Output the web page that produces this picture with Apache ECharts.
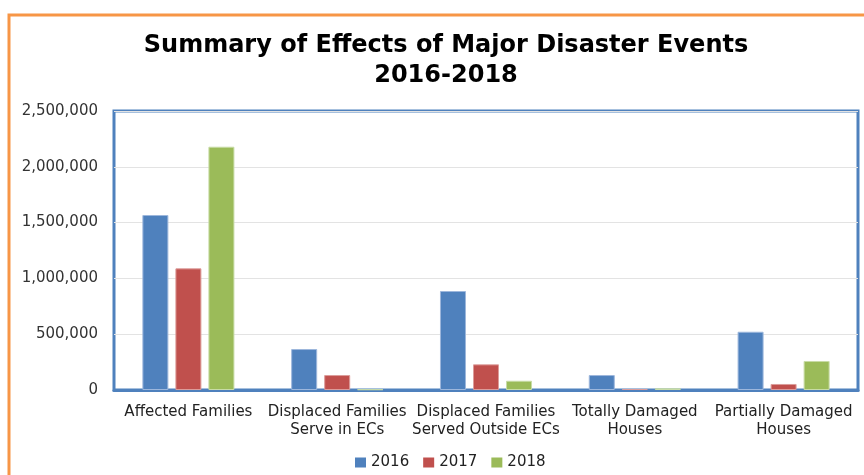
<!DOCTYPE html>
<html>
<head>
<meta charset="utf-8">
<script src="https://cdn.jsdelivr.net/npm/echarts@6/dist/echarts.min.js"></script>
<style>
  html, body { margin: 0; padding: 0; background: #ffffff; }
  #chart { width: 864px; height: 475px; }
</style>
</head>
<body>
<div id="chart"></div>
<script>
// Effect categories along the x axis
const categories = [
  'Affected Families',
  'Displaced Families\nServe in ECs',
  'Displaced Families\nServed Outside ECs',
  'Totally Damaged\nHouses',
  'Partially Damaged\nHouses'
];

// Values per year
const years = ['2016', '2017', '2018'];
const values2016 = [1568000, 367000, 887000, 134000, 522000];
const values2017 = [1090000, 134000, 230000, 9000, 54000];
const values2018 = [2180000, 6000, 83000, 15000, 260000];

const yTicks = { min: 0, max: 2500000, interval: 500000 };

const colors = ['#4F81BD', '#C0504D', '#9BBB59'];
const edgeColors = ['#9DB7DC', '#DC9C9A', '#C8DCA6'];

const chart = echarts.init(document.getElementById('chart'), null, { renderer: 'canvas' });

const seriesData = [values2016, values2017, values2018];

chart.setOption({
  backgroundColor: '#ffffff',
  animation: false,
  color: colors,
  title: {
    text: 'Summary of Effects of Major Disaster Events\n2016-2018',
    left: 446,
    textAlign: 'center',
    top: 31,
    padding: 0,
    textStyle: {
      fontFamily: 'DejaVu Sans',
      fontWeight: 'bold',
      fontSize: 24,
      lineHeight: 30,
      color: '#000000'
    }
  },
  legend: {
    data: years,
    bottom: 0,
    left: 350,
    itemWidth: 11,
    itemHeight: 10,
    itemGap: 14,
    icon: 'rect',
    itemStyle: { borderWidth: 0 },
    textStyle: {
      fontFamily: 'DejaVu Sans',
      fontSize: 15,
      color: '#222222'
    }
  },
  grid: {
    show: true,
    left: 114,
    right: 6,
    top: 111,
    bottom: 85,
    borderColor: '#4F81BD',
    borderWidth: 3,
    containLabel: false
  },
  xAxis: {
    type: 'category',
    data: categories,
    axisLine: { show: true, lineStyle: { color: '#4F81BD', width: 3 } },
    axisTick: { show: false },
    axisLabel: {
      margin: 13,
      interval: 0,
      fontFamily: 'DejaVu Sans',
      fontSize: 15,
      lineHeight: 18,
      color: '#222222'
    }
  },
  yAxis: {
    type: 'value',
    min: yTicks.min,
    max: yTicks.max,
    interval: yTicks.interval,
    axisLine: { show: false },
    axisTick: { show: false },
    splitLine: { show: true, lineStyle: { color: '#e3e3e3', width: 1 } },
    axisLabel: {
      margin: 16,
      fontFamily: 'DejaVu Sans',
      fontSize: 15,
      color: '#333333',
      formatter: v => v.toLocaleString('en-US')
    }
  },
  series: years.map((y, i) => ({
    name: y,
    type: 'bar',
    data: seriesData[i],
    barWidth: 26,
    barGap: '27%',
    itemStyle: { color: colors[i], borderColor: edgeColors[i], borderWidth: 1 }
  })),
  graphic: [{
    type: 'rect',
    z: 100,
    silent: true,
    shape: { x: 9, y: 15, width: 900, height: 500 },
    style: { fill: 'none', stroke: '#F79646', lineWidth: 3 }
  }]
});
</script>
</body>
</html>
